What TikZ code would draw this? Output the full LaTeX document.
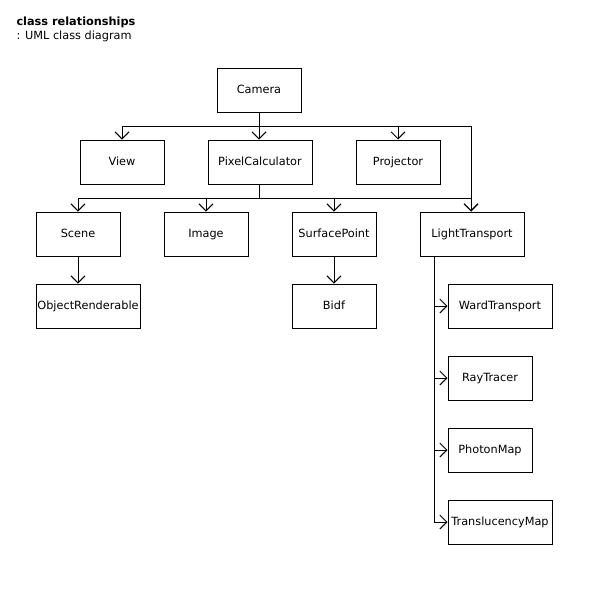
\documentclass[tikz,border=0pt]{standalone}
\usepackage{fontspec}
\setmainfont{DejaVu Sans}
\usepackage{tikz}
\usetikzlibrary{arrows.meta}
\tikzset{
	cls/.style={draw, line width=1pt, minimum width=84pt, minimum height=44pt, inner sep=0pt, text height=8pt, text depth=2pt},
	clswide/.style={cls, minimum width=104pt},
	uml/.style={line width=1pt, -{Straight Barb[length=7pt,width=14pt]}}
}

\begin{document}
\begin{tikzpicture}[x=1pt, y=-1pt, font=\fontsize{11.3}{13}\selectfont]
						\fill[white] (0,0) rectangle (600,600);
						\useasboundingbox (0,0) rectangle (600,600);
						
						\node[anchor=base west, font=\fontsize{11.3}{13}\selectfont\bfseries] (title) at (13,25) {class relationships};
						\node[anchor=base west] (subtitle) at (13,39) {: UML class diagram};
						
						\node[cls] (Camera) at (259,90) {Camera};
						\node[cls] (View) at (122,162) {View};
						\node[clswide] (PixelCalculator) at (260,162) {PixelCalculator};
						\node[cls] (Projector) at (398,162) {Projector};
						\node[cls] (Scene) at (78,234) {Scene};
						\node[cls] (Image) at (206,234) {Image};
						\node[cls] (SurfacePoint) at (334,234) {SurfacePoint};
						\node[clswide] (LightTransport) at (472,234) {LightTransport};
						\node[clswide] (ObjectRenderable) at (88,306) {ObjectRenderable};
						\node[cls] (Bidf) at (334,306) {Bidf};
						\node[clswide] (WardTransport) at (500,306) {WardTransport};
						\node[cls] (RayTracer) at (490,378) {RayTracer};
						\node[cls] (PhotonMap) at (490,450) {PhotonMap};
						\node[clswide] (TranslucencyMap) at (500,522) {TranslucencyMap};
						
						\draw[uml] (Camera.south) -- ++(0,14) -| (View.north);
						\draw[uml] (Camera.south) -- (Camera.south |- PixelCalculator.north);
						\draw[uml] (Camera.south) -- ++(0,14) -| (Projector.north);
						\draw[uml] (Camera.south) -- ++(0,14) -| ([xshift=-1pt]LightTransport.north);
						
						\draw[uml] (PixelCalculator.south -| Camera.south) -- ++(0,14) -| (Scene.north);
						\draw[uml] (PixelCalculator.south -| Camera.south) -- ++(0,14) -| (Image.north);
						\draw[uml] (PixelCalculator.south -| Camera.south) -- ++(0,14) -| (SurfacePoint.north);
						\draw[uml] (PixelCalculator.south -| Camera.south) -- ++(0,14) -| ([xshift=-1pt]LightTransport.north);
						
						\draw[uml] (Scene) -- (Scene |- ObjectRenderable.north);
						\draw[uml] (SurfacePoint) -- (Bidf);
						
						\coordinate (lt) at ([xshift=-38pt]LightTransport.south);
						\draw[uml] (lt) |- (WardTransport.west);
						\draw[uml] (lt) |- (RayTracer.west);
						\draw[uml] (lt) |- (PhotonMap.west);
						\draw[uml] (lt) |- (TranslucencyMap.west);
					\end{tikzpicture}
\end{document}
